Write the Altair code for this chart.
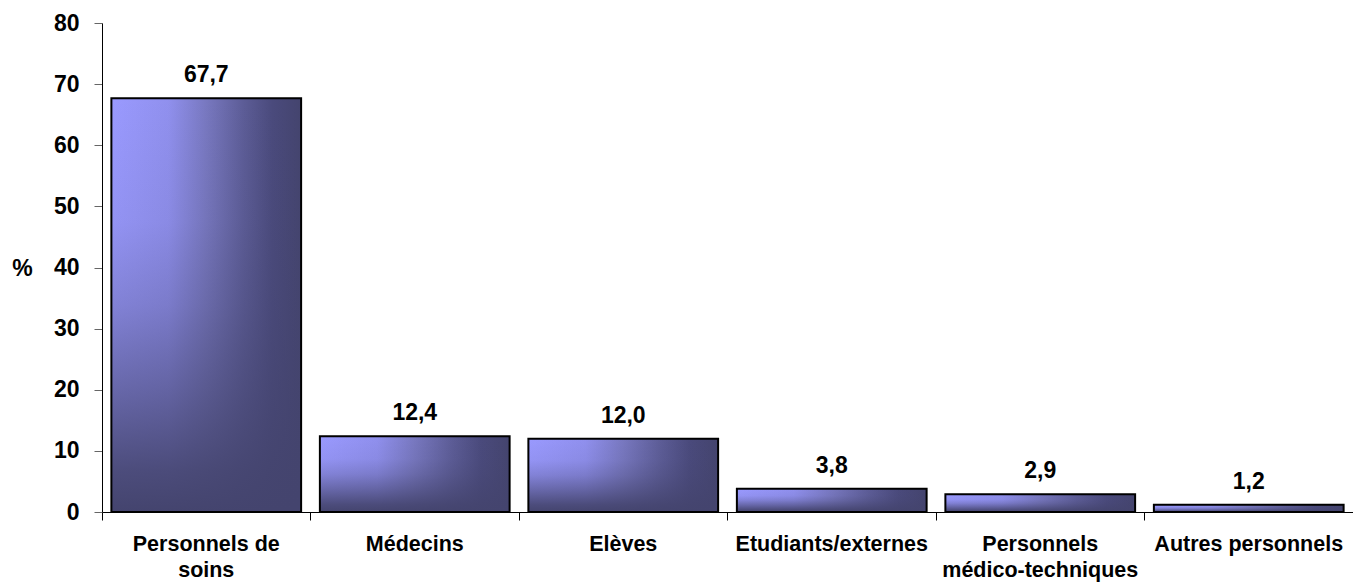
import altair as alt
import pandas as pd

# Share of each staff category (%)
categories = [
    "Personnels de soins",
    "Médecins",
    "Elèves",
    "Etudiants/externes",
    "Personnels médico-techniques",
    "Autres personnels",
]
values = [67.7, 12.4, 12.0, 3.8, 2.9, 1.2]
# Axis labels split over two lines where needed
label_lines = {
    "Personnels de soins": ["Personnels de", "soins"],
    "Personnels médico-techniques": ["Personnels", "médico-techniques"],
}
y_ticks = [0, 10, 20, 30, 40, 50, 60, 70, 80]

df = pd.DataFrame({"cat": categories, "val": values})
df["txt"] = [f"{v:.1f}".replace(".", ",") for v in values]

label_expr = "datum.label"
for k, lines in label_lines.items():
    arr = "[" + ", ".join(f"'{s}'" for s in lines) + "]"
    label_expr = f"datum.label == '{k}' ? {arr} : ({label_expr})"

FONT = "Liberation Sans"

# Corner-style shading: a left-to-right gradient darkened towards the bottom
fill_horizontal = {
    "gradient": "linear",
    "x1": 0, "y1": 0, "x2": 1, "y2": 0,
    "stops": [
        {"offset": 0.0, "color": "#9a9aff"},
        {"offset": 0.3, "color": "#9090ee"},
        {"offset": 0.5, "color": "#7878c0"},
        {"offset": 0.7, "color": "#5c5c96"},
        {"offset": 0.85, "color": "#4a4a7c"},
        {"offset": 1.0, "color": "#44446e"},
    ],
}
fill_vertical = {
    "gradient": "linear",
    "x1": 0, "y1": 0, "x2": 0, "y2": 1,
    "stops": [
        {"offset": 0.0, "color": "rgba(68,68,110,0)"},
        {"offset": 0.3, "color": "rgba(68,68,110,0.08)"},
        {"offset": 0.5, "color": "rgba(68,68,110,0.28)"},
        {"offset": 0.7, "color": "rgba(68,68,110,0.58)"},
        {"offset": 0.9, "color": "rgba(68,68,110,0.9)"},
        {"offset": 1.0, "color": "rgba(68,68,110,1)"},
    ],
}

x_enc = alt.X(
    "cat:N",
    sort=categories,
    scale=alt.Scale(paddingInner=0, paddingOuter=0),
    axis=alt.Axis(
        title=None,
        labelAngle=0,
        labelFont=FONT,
        labelFontSize=21.5,
        labelFontWeight="bold",
        labelColor="black",
        labelPadding=13,
        labelLineHeight=26,
        labelLimit=0,
        labelExpr=label_expr,
        bandPosition=0,
        tickSize=8,
        tickColor="black",
        domainColor="black",
        domainWidth=1,
        ticks=True,
        labelBound=False,
        labelOverlap=False,
    ),
)

y_enc = alt.Y(
    "val:Q",
    scale=alt.Scale(domain=[0, 80], nice=False),
    axis=alt.Axis(
        title="%",
        titleAngle=0,
        titleFont=FONT,
        titleFontSize=23,
        titleFontWeight="bold",
        titleColor="black",
        titleX=-80,
        titleY=245,
        titleAlign="center",
        titleBaseline="middle",
        values=y_ticks,
        labelFont=FONT,
        labelFontSize=23,
        labelFontWeight="bold",
        labelColor="black",
        labelPadding=15,
        tickSize=8,
        tickColor="#666666",
        domainColor="black",
        grid=False,
    ),
)

base = alt.Chart(df)

bars = base.mark_bar(
    width={"band": 0.91},
    fill=fill_horizontal,
    strokeWidth=0,
).encode(x=x_enc, y=y_enc)

shade = base.mark_bar(
    width={"band": 0.91},
    fill=fill_vertical,
    stroke="black",
    strokeWidth=2,
).encode(x=alt.X("cat:N", sort=categories), y="val:Q")

text = base.mark_text(
    font=FONT,
    fontSize=23,
    fontWeight="bold",
    color="black",
    baseline="bottom",
    dy=-11,
).encode(x=alt.X("cat:N", sort=categories), y="val:Q", text="txt:N")

chart = (
    alt.layer(bars, shade, text)
    .properties(
        width=1251,
        height=489,
        autosize=alt.AutoSizeParams(type="none"),
        padding={"left": 102, "top": 23, "right": 0, "bottom": 70},
        background="white",
    )
    .configure_view(stroke=None)
)

chart.save("out.html", embed_options={"renderer": "svg", "actions": False})
